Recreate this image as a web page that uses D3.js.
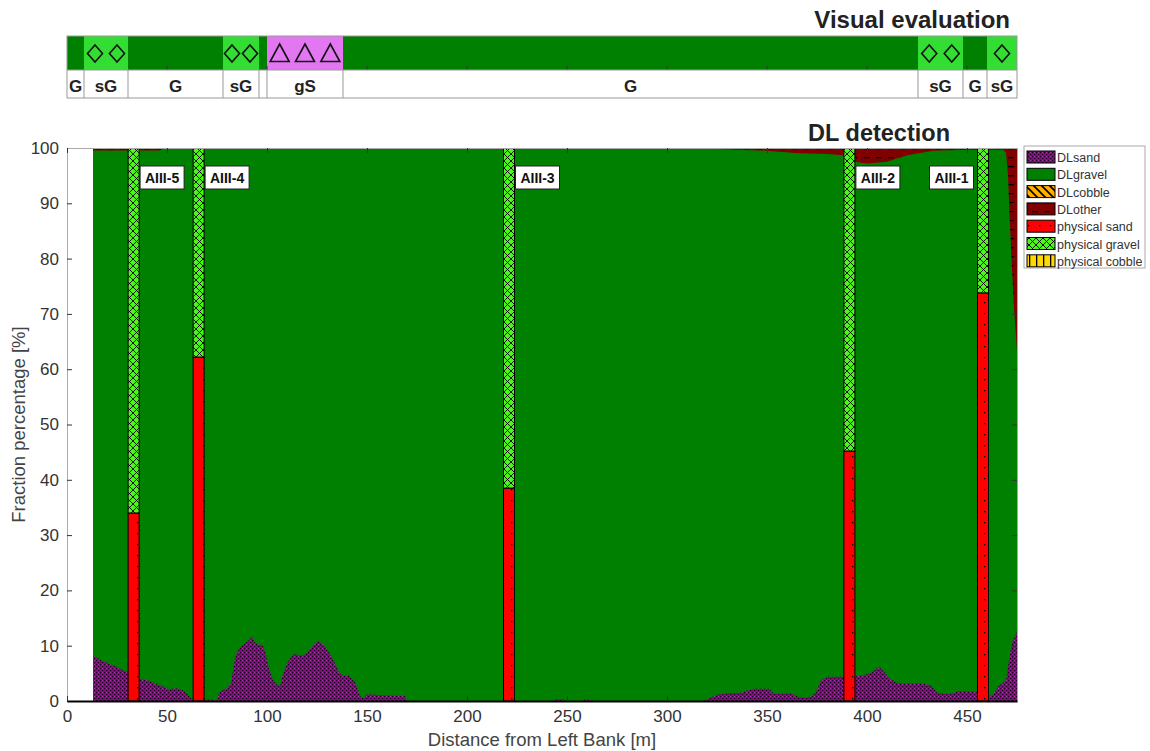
<!DOCTYPE html>
<html><head><meta charset="utf-8">
<script src="https://cdn.jsdelivr.net/npm/d3@7"></script>
<style>
body{margin:0;background:#fff}
svg{display:block}
text{font-family:"Liberation Sans",Arial,sans-serif}
</style>
</head><body>
<svg id="c" width="1150" height="751"></svg>
<script>
// ---------------- DATA ----------------
// Visual evaluation strip (distance bounds in m)
const visualBounds  = [0, 8.5, 30.5, 78, 96, 100, 138, 425.5, 448, 460, 475];
const visualClasses = ["G", "sG", "G", "sG", "G", "gS", "G", "sG", "G", "sG"];
const visualLabels  = ["G", "sG", "G", "sG", "", "gS", "G", "sG", "G", "sG"];
const visualSymbols = [0, 2, 0, 2, 0, 3, 0, 2, 0, 1];

// DL detection: sand fraction (%) vs distance (m)
const sandDist = [13,15,18,20,23,26,28,30,33,36,40,45,48,51,54,56,58,60,62,63,69,74,75,76,78,80,82,83,84,86,88,91,92.5,94,96,98,99.5,101,103,105,106.5,108,110,112,114,117,119,121,123,125.5,128,130,132,134,136,138,141,144,145.5,147,148.5,150,160,169,170,243,244,248,249,258,259,262,263,318,320,323,326,330,337,341,344,351,353.5,358,362,366,369.5,373,375,377,380,386,392,398,402.5,406,408,411.5,415,418,427,432,435,441,446,453,459,462.5,466,469.5,471,472.5,475];
const sandPct  = [8.2,7.8,7.2,6.9,6.4,6.0,5.5,5.3,4.8,4.0,3.8,3.0,2.6,2.1,2.3,2.2,1.9,1.3,0.5,0,0.3,0.2,0,1.5,2.0,2.3,3.2,5.5,7.8,9.5,10.2,11.0,11.7,10.5,10.2,10.0,8.3,5.8,3.8,2.9,2.7,4.8,6.8,8.0,8.5,8.2,8.4,9.2,10.0,10.9,10.2,9.4,8.2,6.8,5.2,4.6,4.5,3.5,2.0,0.6,0.5,1.2,1.0,0.9,0,0,0.3,0.3,0,0,0.25,0.2,0,0,0.3,0.8,1.2,1.4,1.5,2.0,2.2,2.2,1.3,1.3,1.4,0.7,0.6,0.9,2.0,3.7,4.4,4.4,4.4,4.6,5.2,6.2,5.5,4.0,3.3,3.1,3.2,2.8,1.5,1.2,1.8,1.7,1.4,0.9,2.8,3.7,7.4,10.5,12.5];

// DL detection: other fraction (%) (stacked on top)
const otherDist = [13,46,48,200,325,335,350,366,380,388,394,400,410,420,433,450,468,469.5,470.5,471.5,472.5,473.5,474.5,475];
const otherPct  = [0.45,0.45,0.2,0.2,0.2,0.3,0.5,0.95,1.1,1.3,2.5,2.8,2.5,1.3,0.5,0.3,0.3,0.8,5,14,22,29,34,37];

// DL detection: gravel covers the rest of the measured span
const gravelSpan = [13, 475];

// Physical samples
const coreNames   = ["AIII-5", "AIII-4", "AIII-3", "AIII-2", "AIII-1"];
const coreDist    = [33.3, 65.8, 221, 391.2, 458];
const coreSand    = [34, 62.2, 38.5, 45.2, 73.8];
const coreGravel  = [66, 37.8, 61.5, 54.8, 26.2];
const coreLabelSide = ["right", "right", "right", "right", "left"];
const coreWidth = 5.5;

const xTicks = [0, 50, 100, 150, 200, 250, 300, 350, 400, 450];
const yTicks = [0, 10, 20, 30, 40, 50, 60, 70, 80, 90, 100];
const legendLabels = ["DLsand", "DLgravel", "DLcobble", "DLother", "physical sand", "physical gravel", "physical cobble"];

// ---------------- DRAW ----------------
const svg = d3.select("#c");
const defs = svg.append("defs");
const x = d3.scaleLinear().domain([0, 475]).range([67, 1017]);
const y = d3.scaleLinear().domain([0, 100]).range([701, 148]);

const C = {G: "#008000", sG: "#33dd33", gS: "#e377f2"};

function pat(id, w, h, bg, draw) {
  const p = defs.append("pattern").attr("id", id).attr("patternUnits", "userSpaceOnUse")
    .attr("width", w).attr("height", h);
  p.append("rect").attr("width", w).attr("height", h).attr("fill", bg);
  draw(p);
}
pat("pSand", 4, 4, "#860a86", p => {
  p.append("rect").attr("x", 0).attr("y", 0).attr("width", 1.2).attr("height", 1.2).attr("fill", "#1a001a");
  p.append("rect").attr("x", 2).attr("y", 2).attr("width", 1.2).attr("height", 1.2).attr("fill", "#1a001a");
  p.append("rect").attr("x", 2).attr("y", 0).attr("width", 0.8).attr("height", 0.8).attr("fill", "#c44cc4");
});
pat("pOther", 12, 9, "#800000", p => {
  p.append("rect").attr("x", 0).attr("y", 4).attr("width", 6).attr("height", 1.3).attr("fill", "#000");
});
pat("pCobble", 8, 8, "#ffb000", p => {
  p.append("path").attr("d", "M0,0L8,8M-4,4L4,12M4,-4L12,4").attr("stroke", "#000").attr("stroke-width", 1.6);
});
pat("pPSand", 11, 11, "#ff0000", p => {
  p.append("rect").attr("x", 5).attr("y", 5).attr("width", 1.3).attr("height", 1.3).attr("fill", "#000");
});
pat("pPGravel", 7, 7, "#4cf51e", p => {
  p.append("path").attr("d", "M0,0L7,7M7,0L0,7").attr("stroke", "#000").attr("stroke-width", 0.9);
});
pat("pPCobble", 7, 12, "#ffd800", p => {
  p.append("rect").attr("x", 0).attr("y", 0).attr("width", 1.3).attr("height", 12).attr("fill", "#000");
});

// ---- Visual evaluation strip ----
const topG = svg.append("g");
const bandY = 36, bandH = 34, labY = 70, labH = 28;
visualClasses.forEach((cls, i) => {
  const x0 = x(visualBounds[i]), x1 = x(visualBounds[i + 1]);
  topG.append("rect").attr("x", x0).attr("y", bandY).attr("width", x1 - x0).attr("height", bandH).attr("fill", C[cls]);
  const n = visualSymbols[i];
  for (let k = 0; k < n; k++) {
    const cx = x0 + (k + 0.5) * (x1 - x0) / n;
    if (cls === "gS") {
      topG.append("path").attr("d", `M${cx},44L${cx + 9.5},61.5L${cx - 9.5},61.5Z`)
        .attr("fill", "none").attr("stroke", "#111").attr("stroke-width", 1.6);
    } else {
      topG.append("path").attr("d", `M${cx},45L${cx + 7.5},53.5L${cx},62L${cx - 7.5},53.5Z`)
        .attr("fill", "none").attr("stroke", "#111").attr("stroke-width", 1.6);
    }
  }
  topG.append("text").attr("x", (x0 + x1) / 2).attr("y", 92).attr("text-anchor", "middle")
    .attr("font-size", 17).attr("font-weight", "bold").attr("fill", "#222").text(visualLabels[i]);
  if (i > 0) topG.append("line").attr("x1", x0).attr("x2", x0).attr("y1", labY).attr("y2", labY + labH)
    .attr("stroke", "#999").attr("stroke-width", 1);
});
xTicks.filter(t => t > 0).forEach(t => {
  topG.append("line").attr("x1", x(t)).attr("x2", x(t)).attr("y1", labY).attr("y2", labY - 4).attr("stroke", "#333");
});
topG.append("line").attr("x1", x(0)).attr("x2", x(475)).attr("y1", labY).attr("y2", labY).attr("stroke", "#999");
topG.append("rect").attr("x", x(0)).attr("y", bandY).attr("width", x(475) - x(0)).attr("height", bandH + labH)
  .attr("fill", "none").attr("stroke", "#999");
svg.append("text").attr("x", 1010).attr("y", 28).attr("text-anchor", "end").attr("font-size", 24)
  .attr("font-weight", "bold").attr("fill", "#222").text("Visual evaluation");
svg.append("text").attr("x", 950).attr("y", 141).attr("text-anchor", "end").attr("font-size", 23.5)
  .attr("font-weight", "bold").attr("fill", "#222").text("DL detection");

// ---- Main plot ----
defs.append("clipPath").attr("id", "clip").append("rect")
  .attr("x", x(0)).attr("y", y(100)).attr("width", x(475) - x(0)).attr("height", y(0) - y(100));
const plot = svg.append("g").attr("clip-path", "url(#clip)");

plot.append("path").datum(gravelSpan)
  .attr("d", d3.area().x(d => x(d)).y0(y(0)).y1(y(100)))
  .attr("fill", C.G);
plot.append("path").datum(d3.zip(sandDist, sandPct))
  .attr("d", d3.area().x(d => x(d[0])).y0(y(0)).y1(d => y(d[1])))
  .attr("fill", "url(#pSand)");
plot.append("path").datum(d3.zip(otherDist, otherPct))
  .attr("d", d3.area().x(d => x(d[0])).y0(d => y(100 - d[1])).y1(y(100)))
  .attr("fill", "url(#pOther)");

// physical bars
coreNames.forEach((name, i) => {
  const x0 = x(coreDist[i] - coreWidth / 2), w = x(coreDist[i] + coreWidth / 2) - x0;
  plot.append("rect").attr("x", x0).attr("y", y(coreSand[i])).attr("width", w)
    .attr("height", y(0) - y(coreSand[i])).attr("fill", "url(#pPSand)").attr("stroke", "#000").attr("stroke-width", 1);
  plot.append("rect").attr("x", x0).attr("y", y(coreSand[i] + coreGravel[i])).attr("width", w)
    .attr("height", y(coreSand[i]) - y(coreSand[i] + coreGravel[i])).attr("fill", "url(#pPGravel)")
    .attr("stroke", "#000").attr("stroke-width", 1);
});

// axes
const axG = svg.append("g");
const yl = axG.append("g").attr("transform", `translate(${x(0)},0)`)
  .call(d3.axisLeft(y).tickValues(yTicks).tickSizeInner(-5).tickSizeOuter(0).tickPadding(8));
const yr = axG.append("g").attr("transform", `translate(${x(475)},0)`)
  .call(d3.axisRight(y).tickValues(yTicks).tickSizeInner(-5).tickSizeOuter(0).tickFormat(""));
const xb = axG.append("g").attr("transform", `translate(0,${y(0)})`)
  .call(d3.axisBottom(x).tickValues(xTicks).tickSizeInner(-5).tickSizeOuter(0).tickPadding(9));
const xt = axG.append("g").attr("transform", `translate(0,${y(100)})`)
  .call(d3.axisTop(x).tickValues(xTicks).tickSizeInner(-5).tickSizeOuter(0).tickFormat(""));
[yl, yr, xt].forEach(g => g.select(".domain").attr("stroke", "#aaa"));
xb.select(".domain").attr("stroke", "#000").attr("stroke-width", 2);
axG.selectAll(".tick line").attr("stroke", "#333");
axG.selectAll(".tick text").attr("font-size", 17).attr("fill", "#333")
  .attr("font-family", '"Liberation Sans",Arial,sans-serif');

svg.append("text").attr("transform", `translate(25,${(y(0) + y(100)) / 2}) rotate(-90)`)
  .attr("text-anchor", "middle").attr("font-size", 18.5).attr("fill", "#444").text("Fraction percentage [%]");
svg.append("text").attr("x", (x(0) + x(475)) / 2).attr("y", 746).attr("text-anchor", "middle")
  .attr("font-size", 18.5).attr("fill", "#444").text("Distance from Left Bank [m]");

// core labels
coreNames.forEach((name, i) => {
  const bw = 44, bh = 23, by = 166;
  const bx = coreLabelSide[i] === "right" ? x(coreDist[i] + coreWidth / 2) + 1 : x(coreDist[i] - coreWidth / 2) - 4 - bw;
  svg.append("rect").attr("x", bx).attr("y", by).attr("width", bw).attr("height", bh)
    .attr("fill", "#fff").attr("stroke", "#222").attr("stroke-width", 1);
  svg.append("text").attr("x", bx + bw / 2).attr("y", by + 17).attr("text-anchor", "middle")
    .attr("font-size", 14).attr("font-weight", "bold").attr("fill", "#111").text(name);
});

// legend
const lg = svg.append("g");
lg.append("rect").attr("x", 1024).attr("y", 146).attr("width", 121).attr("height", 122)
  .attr("fill", "#fff").attr("stroke", "#aaa");
const legFills = ["url(#pSand)", C.G, "url(#pCobble)", "url(#pOther)", "url(#pPSand)", "url(#pPGravel)", "url(#pPCobble)"];
legendLabels.forEach((lab, i) => {
  const yy = 151 + i * 17.3;
  lg.append("rect").attr("x", 1027).attr("y", yy).attr("width", 28).attr("height", 12)
    .attr("fill", legFills[i]).attr("stroke", "#000").attr("stroke-width", 1);
  lg.append("text").attr("x", 1057).attr("y", yy + 11).attr("font-size", 12.5).attr("fill", "#333").text(lab);
});
</script>
</body></html>
